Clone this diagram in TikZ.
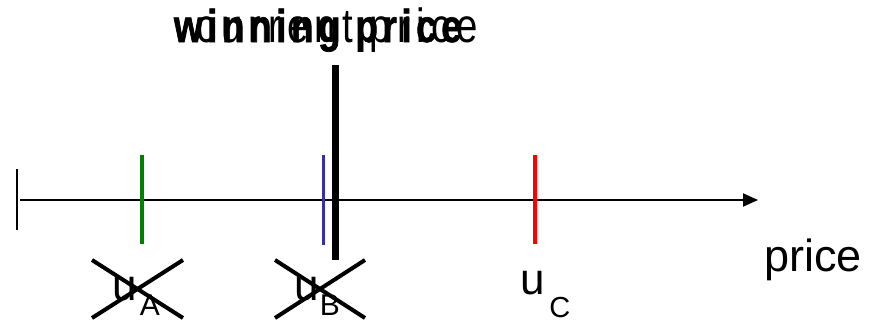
\documentclass[tikz,border=0pt]{standalone}
\usepackage{fontspec}
\setmainfont{Liberation Sans}
\newfontfamily\wintitle[FakeStretch=0.8,LetterSpace=10,FakeBold=1.5]{Liberation Sans Bold}
\newfontfamily\curtitle[FakeStretch=0.8,LetterSpace=13]{Liberation Sans}
\usetikzlibrary{arrows.meta}
\definecolor{tickgreen}{RGB}{0,128,0}
\definecolor{tickblue}{RGB}{51,51,153}
\definecolor{tickred}{RGB}{255,0,0}
\begin{document}
\begin{tikzpicture}[x=1pt,y=-1pt,
  valtick/.style={line width=3.5pt},
  crossline/.style={line width=4pt},
  txt/.style={inner sep=0pt,outer sep=0pt,anchor=base west},
  ulabel/.style={txt,font=\fontsize{44}{48}\selectfont}]
\useasboundingbox (0,0) rectangle (872,321);
% axis
\coordinate (axL) at (20,200);
\coordinate (axR) at (758,200);
\coordinate (ltTop) at (17,169);
\coordinate (ltBot) at (17,230);
\draw[line width=2pt,-{Triangle[length=15pt,width=13pt]}] (axL) -- (axR);
\draw[line width=2pt] (ltTop) -- (ltBot);
% value ticks
\coordinate (gT) at (142,155); \coordinate (gB) at (142,244);
\coordinate (bT) at (323.5,155); \coordinate (bB) at (323.5,245);
\coordinate (rT) at (535,155); \coordinate (rB) at (535,244);
\coordinate (wT) at (335,65); \coordinate (wB) at (335,260);
\draw[valtick,tickgreen] (gT) -- (gB);
\draw[valtick,tickblue] (bT) -- (bB);
\draw[valtick,tickred] (rT) -- (rB);
\draw[line width=7pt] (wT) -- (wB);
% titles
\node[txt,font=\wintitle\fontsize{46}{50}\selectfont] (win) at (174,42) {winning price};
\node[txt,font=\curtitle\fontsize{48}{52}\selectfont] (cur) at (196,42) {current price};
% axis label
\node[txt,font=\fontsize{45}{50}\selectfont] (plabel) at (764,271) {price};
% value labels
\node[ulabel] (uA) at (112,300) {u\kern3.5pt\raisebox{-15pt}{\fontsize{30}{33}\selectfont A}};
\node[ulabel] (uB) at (294,300) {u\kern1.5pt\raisebox{-15pt}{\fontsize{30}{33}\selectfont B}};
\node[ulabel] (uC) at (520,294) {u\kern5pt\raisebox{-23pt}{\fontsize{29}{33}\selectfont C}};
% crosses
\coordinate (a1) at (92,260); \coordinate (a2) at (183,318);
\coordinate (a3) at (92,318); \coordinate (a4) at (183,260);
\coordinate (b1) at (275,260); \coordinate (b2) at (365,318);
\coordinate (b3) at (275,318); \coordinate (b4) at (365,260);
\draw[crossline] (a1) -- (a2);
\draw[crossline] (a3) -- (a4);
\draw[crossline] (b1) -- (b2);
\draw[crossline] (b3) -- (b4);
\end{tikzpicture}
\end{document}
